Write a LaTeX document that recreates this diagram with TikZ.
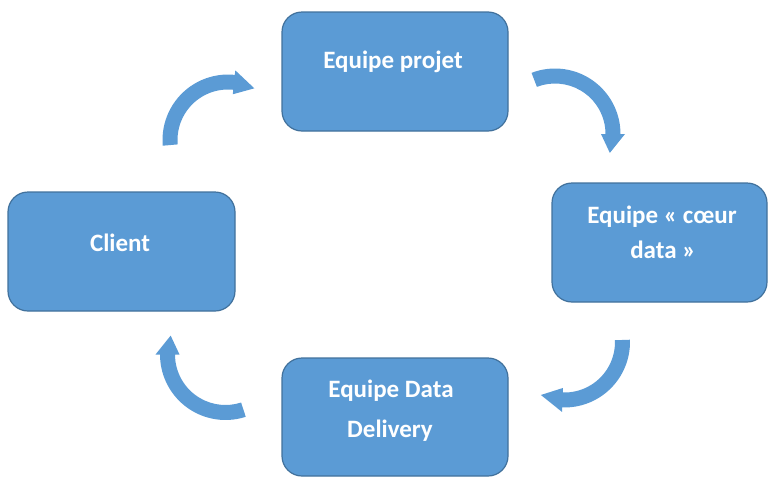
\documentclass[tikz,border=0pt]{standalone}
\usepackage{fontspec}
\setmainfont{Carlito}
\definecolor{boxfill}{HTML}{5B9BD5}
\definecolor{boxline}{HTML}{41719C}
\tikzset{
  box/.style={draw=boxline, line width=1.2pt, fill=boxfill, rounded corners=20pt, inner sep=0pt},
  lbl/.style={text=white, font=\bfseries\fontsize{25}{30}\selectfont, anchor=base, inner sep=0pt},
  cyc/.style={fill=boxfill}
}
% cycle arrow: centre x, centre y (pixels, y down), tail angle, head back angle, tip angle
\newcommand\cycarrow[5]{%
  \begin{scope}[shift={(#1,-#2)}]
    \fill[cyc] (#3:65.5) arc[start angle=#3, end angle=#4, radius=65.5]
      -- (#4:70) -- (#5:58) -- (#4:46) -- (#4:50.5)
      arc[start angle=#4, end angle=#3, radius=50.5] -- cycle;
  \end{scope}}
\begin{document}
\begin{tikzpicture}[x=1pt, y=1pt]
  \useasboundingbox (0,0) rectangle (769,-477);
  % boxes
  \node[box, minimum width=226pt, minimum height=119pt] (proj) at (395,-71.5) {};
  \node[box, minimum width=227pt, minimum height=119pt] (client) at (121.5,-251.5) {};
  \node[box, minimum width=215pt, minimum height=119pt] (coeur) at (659.5,-242.5) {};
  \node[box, minimum width=226pt, minimum height=118pt] (deliv) at (395,-417) {};
  % labels
  \node[lbl] (tproj) at (393,-68) {Equipe projet};
  \node[lbl] (tcli) at (120,-251) {Client};
  \node[lbl] (tcoeur1) at (662,-223) {Equipe «~cœur};
  \node[lbl] (tcoeur2) at (663,-258) {data~»};
  \node[lbl] (tdel1) at (391,-397) {Equipe Data};
  \node[lbl] (tdel2) at (390,-437) {Delivery};
  % cycle arrows
  \cycarrow{228}{140}{185}{84}{63}
  \cycarrow{555}{134}{111}{0}{-19}
  \cycarrow{564.5}{342}{2}{-92}{-114}
  \cycarrow{225.5}{354.5}{-72}{-180}{-199}
\end{tikzpicture}
\end{document}
